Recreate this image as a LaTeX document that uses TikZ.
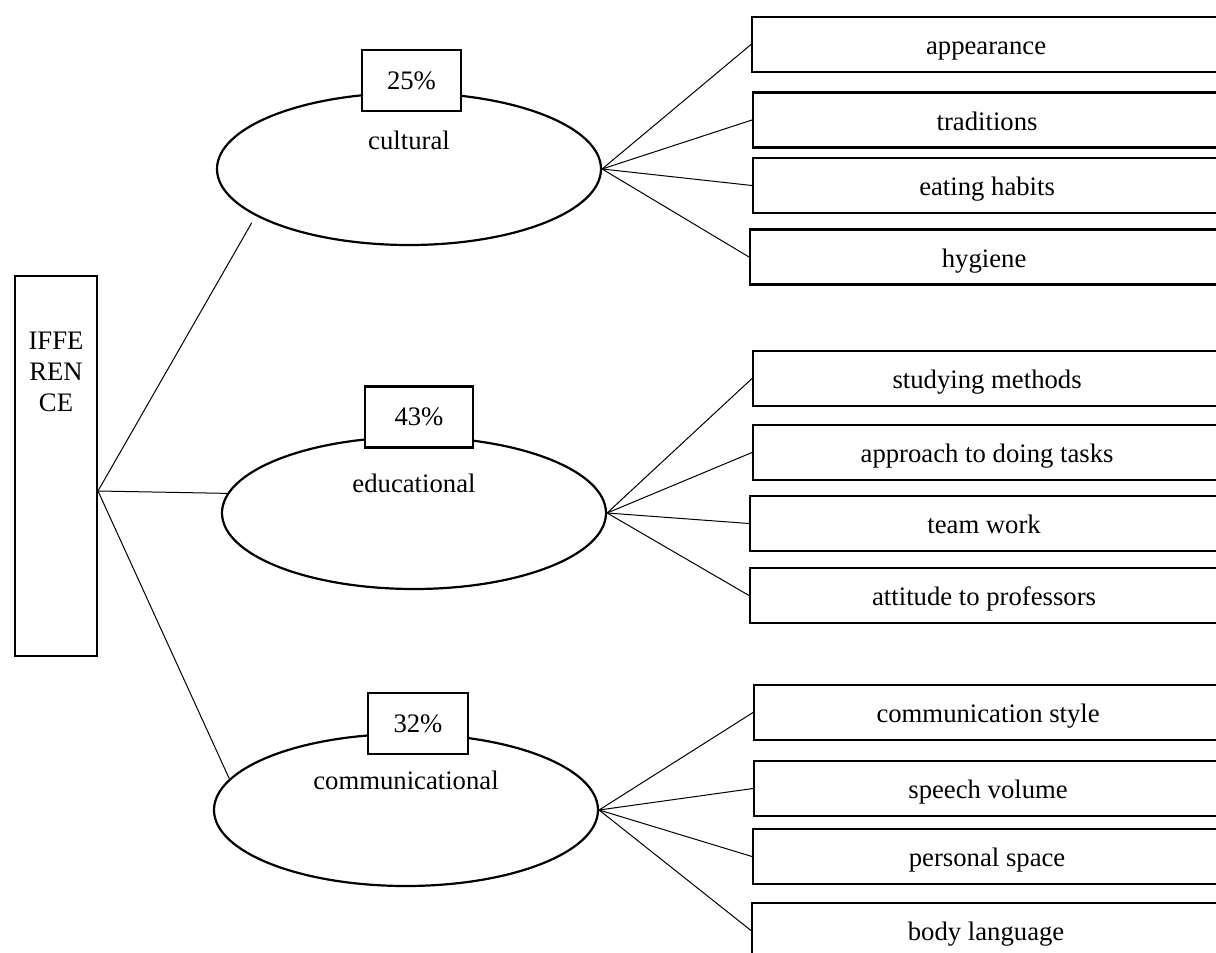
\documentclass[tikz,border=0pt]{standalone}
\usepackage{fontspec}
\setmainfont{Liberation Serif}
\usetikzlibrary{shapes.geometric}
\tikzset{
        base/.style={draw, line width=1.1pt, inner sep=0pt},
        root/.style={base, rectangle, minimum width=41pt, minimum height=190pt},
        group/.style={base, ellipse, minimum width=192pt, minimum height=76pt},
        share/.style={base, rectangle, fill=white, minimum width=50pt,
                      minimum height=30.5pt},
        item/.style={base, rectangle, anchor=west, minimum width=234pt,
                     minimum height=27.5pt, text height=10pt, text depth=0pt},
        myline/.style={line width=0.5pt},
 }

\begin{document}
\begin{tikzpicture}[x=0.5pt, y=-0.5pt, font=\fontsize{13.35}{15.5}\selectfont]
    \useasboundingbox (0,0) rectangle (1216,953);
    \clip (0,0) rectangle (1216,953);

    \node[root, label={[anchor=north, yshift=-25pt, align=center]north:IFFE\\REN\\CE}] (diff) at (56,466) {};
    \coordinate (hub) at (98,491);

    \node[group, label={[yshift=14.5pt]center:cultural}] (cult) at (409,169) {};
    \node[group, label={[yshift=15pt]center:educational}] (edu) at (414,513) {};
    \node[group, label={[yshift=15pt]center:communicational}] (comm) at (406,810) {};

    \node[share, minimum width=49.5pt] (p1) at (411.5,80.5) {25\%};
    \node[share, minimum width=54pt] (p2) at (419,417) {43\%};
    \node[share] (p3) at (418,723.5) {32\%};

    \node[item] (app) at (751,44.5) {appearance};
    \node[item] (trad) at (752,120) {traditions};
    \node[item] (eat) at (752,185.5) {eating habits};
    \node[item] (hyg) at (749,257) {hygiene};

    \node[item] (study) at (752,378.5) {studying methods};
    \node[item] (task) at (752,452.5) {approach to doing tasks};
    \node[item] (team) at (749,523.5) {team work};
    \node[item] (prof) at (749,595.5) {attitude to professors};

    \node[item] (style) at (753,712.5) {communication style};
    \node[item] (vol) at (753,788.5) {speech volume};
    \node[item] (space) at (752,856.5) {personal space};
    \node[item] (body) at (751,930.5) {body language};

    \draw[myline, shorten >=4pt] (hub) -- (cult.197);
    \draw[myline] (hub) -- (edu.174);
    \draw[myline] (hub) -- (comm.170);

    \draw[myline] (cult.east) -- (app.west);
    \draw[myline] (cult.east) -- (trad.west);
    \draw[myline] (cult.east) -- (eat.west);
    \draw[myline] (cult.east) -- (hyg.west);

    \draw[myline] (edu.east) -- (study.west);
    \draw[myline] (edu.east) -- (task.west);
    \draw[myline] (edu.east) -- (team.west);
    \draw[myline] (edu.east) -- (prof.west);

    \draw[myline] (comm.east) -- (style.west);
    \draw[myline] (comm.east) -- (vol.west);
    \draw[myline] (comm.east) -- (space.west);
    \draw[myline] (comm.east) -- (body.west);

\end{tikzpicture}
\end{document}
